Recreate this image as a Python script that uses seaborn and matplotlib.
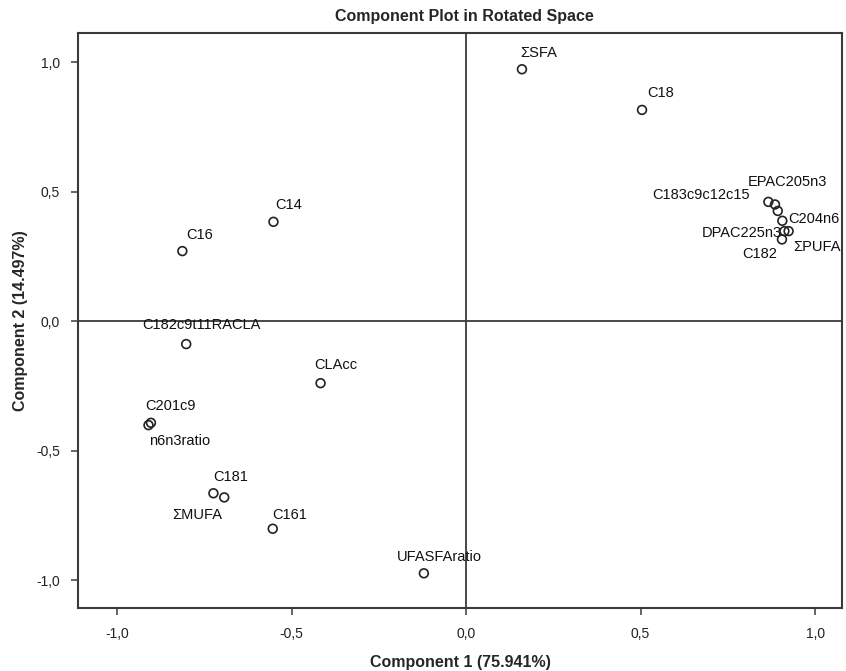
import matplotlib
matplotlib.use("Agg")
import matplotlib.pyplot as plt
from matplotlib.ticker import FuncFormatter, FixedLocator
import seaborn as sns
import pandas as pd

# Rotated component loadings (one point in the PUFA cluster carries no label)
variables = ["ΣSFA", "C18", "C14", "C16", "C182c9t11RACLA", "CLAcc",
             "C201c9", "n6n3ratio", "C181", "ΣMUFA", "C161", "UFASFAratio",
             "C183c9c12c15", "EPAC205n3", "", "C204n6", "DPAC225n3",
             "ΣPUFA", "C182"]
component1 = [0.160, 0.504, -0.552, -0.813, -0.802, -0.417,
              -0.903, -0.910, -0.724, -0.693, -0.554, -0.121,
              0.866, 0.885, 0.893, 0.906, 0.912,
              0.924, 0.905]
component2 = [0.972, 0.815, 0.383, 0.270, -0.089, -0.240,
              -0.393, -0.402, -0.665, -0.681, -0.802, -0.974,
              0.460, 0.450, 0.425, 0.387, 0.347,
              0.347, 0.315]

x_ticks = [-1.0, -0.5, 0.0, 0.5, 1.0]
y_ticks = [-1.0, -0.5, 0.0, 0.5, 1.0]

# Label placement: offset in pixels from the point, and horizontal alignment
label_pos = {
    "ΣSFA": (-2, 16, "left"),
    "C18": (5, 17, "left"),
    "C14": (2, 17, "left"),
    "C16": (4, 16, "left"),
    "C182c9t11RACLA": (-44, 19, "left"),
    "CLAcc": (-6, 18, "left"),
    "C201c9": (-6, 17, "left"),
    "n6n3ratio": (1, -16, "left"),
    "C181": (0, 16, "left"),
    "ΣMUFA": (-2, -18, "right"),
    "C161": (-1, 14, "left"),
    "UFASFAratio": (-27, 16, "left"),
    "C183c9c12c15": (-18, 7, "right"),
    "EPAC205n3": (-27, 22, "left"),
    "C204n6": (6, 2, "left"),
    "DPAC225n3": (-3, -2, "right"),
    "ΣPUFA": (5, -16, "left"),
    "C182": (-5, -15, "right"),
}

df = pd.DataFrame({"variable": variables, "c1": component1, "c2": component2})

sns.set_style("white")
plt.rcParams["font.family"] = ["Liberation Sans", "DejaVu Sans"]

fig = plt.figure(figsize=(8.46, 6.71), dpi=100)
ax = fig.add_axes([78 / 846, 1 - 608 / 671, (842 - 78) / 846, (608 - 33) / 671])

ax.axhline(0, color="#3a3a3a", lw=1.3, zorder=1)
ax.axvline(0, color="#3a3a3a", lw=1.3, zorder=1)

sns.scatterplot(data=df, x="c1", y="c2", ax=ax, s=40, facecolor="none",
                edgecolor="#222222", linewidth=1.2, zorder=3, legend=False)

for name, x, y in zip(variables, component1, component2):
    if not name:
        continue
    dx, dy, ha = label_pos[name]
    ax.annotate(name, (x, y), xytext=(dx * 0.72, dy * 0.72),
                textcoords="offset points", ha=ha, va="center",
                fontsize=10.5, color="#111111")

ax.set_xlim(-1.112, 1.077)
ax.set_ylim(-1.108, 1.112)
ax.xaxis.set_major_locator(FixedLocator(x_ticks))
ax.yaxis.set_major_locator(FixedLocator(y_ticks))
comma = FuncFormatter(lambda v, _: f"{v:.1f}".replace(".", ","))
ax.xaxis.set_major_formatter(comma)
ax.yaxis.set_major_formatter(comma)
ax.tick_params(direction="out", length=5, width=1.1, color="#3a3a3a",
               labelsize=10, labelcolor="#222222",
               bottom=True, left=True)
ax.tick_params(axis="x", pad=9)
ax.tick_params(axis="y", pad=8)

for sp in ax.spines.values():
    sp.set_visible(True)
    sp.set_color("#3a3a3a")
    sp.set_linewidth(1.5)

narrow = ["Liberation Sans Narrow", "Liberation Sans", "DejaVu Sans"]
ax.set_xlabel("Component 1 (75.941%)", fontsize=11.5, fontweight="bold",
              family=narrow, labelpad=10)
ax.set_ylabel("Component 2 (14.497%)", fontsize=11.5, fontweight="bold",
              family=narrow, labelpad=6)
fig.text(464 / 846, 1 - 16 / 671, "Component Plot in Rotated Space",
         ha="center", va="center", fontsize=11.5, fontweight="bold",
         family=narrow)

fig.savefig("out.png", dpi=100, facecolor="white")
